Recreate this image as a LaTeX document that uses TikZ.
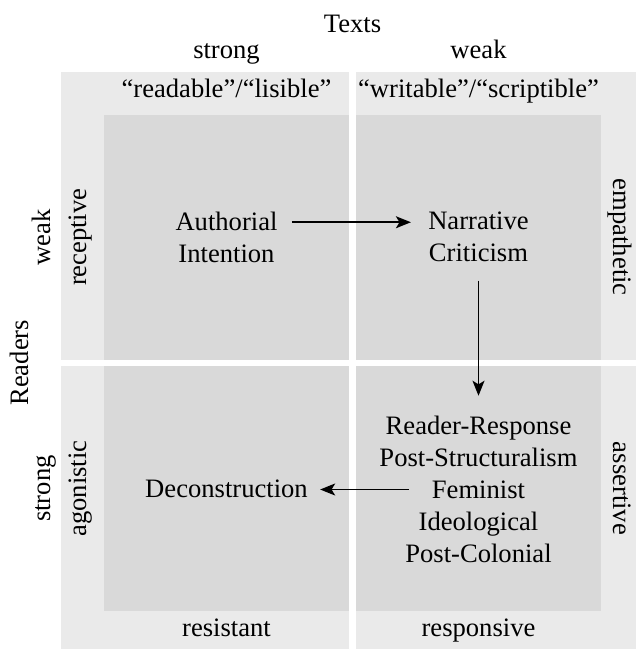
\documentclass[tikz,border=0pt]{standalone}
\usepackage{fontspec}
\setmainfont{Liberation Serif}
\usetikzlibrary{arrows.meta, positioning}
\definecolor{band}{RGB}{234,234,234}
\definecolor{field}{RGB}{217,217,217}

\begin{document}
\begin{tikzpicture}
    [
        x=0.5pt, y=-0.5pt,
        font=\fontsize{13.3pt}{16pt}\selectfont,
        lbl/.style={anchor=base, inner sep=0pt},
        multi/.style={align=center, inner sep=0pt},
        uplbl/.style={lbl, rotate=90},
        downlbl/.style={lbl, rotate=-90}
    ]
    \tikzstyle{line} = [draw, line width=0.8pt, -{Stealth[length=7.5pt, width=6pt, inset=1.8pt]}]

    \useasboundingbox (0,0) rectangle (636,649);

    % Quadrants
    \fill[band] (61,72) rectangle (349,359.5);
    \fill[field] (104,115) rectangle (349,359.5);
    \fill[band] (356,72) rectangle (636,359.5);
    \fill[field] (356,115) rectangle (601,359.5);
    \fill[band] (61,366) rectangle (349,649);
    \fill[field] (104,366) rectangle (349,611);
    \fill[band] (356,366) rectangle (636,649);
    \fill[field] (356,366) rectangle (601,611);

    % Top axis
    \node[lbl] (texts) at (352.5,32) {Texts};
    \node[lbl] (t_strong) at (226.5,58) {strong};
    \node[lbl] (t_weak) at (478.5,58) {weak};
    \node[lbl] (readable) at (226.5,97) {``readable''/``lisible''};
    \node[lbl] (writable) at (478.5,97) {``writable''/``scriptible''};

    % Left axis
    \node[uplbl] (readers) at (28.3,362.75) {Readers};
    \node[uplbl] (r_weak) at (50,237.25) {weak};
    \node[uplbl] (r_strong) at (50,488.5) {strong};
    \node[uplbl] (receptive) at (86,237.25) {receptive};
    \node[uplbl] (agonistic) at (86,488.5) {agonistic};

    % Right and bottom bands
    \node[downlbl] (empathetic) at (613.5,237.25) {empathetic};
    \node[downlbl] (assertive) at (613.5,488.5) {assertive};
    \node[lbl] (resistant) at (226.5,636) {resistant};
    \node[lbl] (responsive) at (478.5,636) {responsive};

    % Approaches
    \node[multi] (auth) at (226.5,237.25) {Authorial\\Intention};
    \node[multi] (narr) at (478.5,237.25) {Narrative\\Criticism};
    \node[multi] (resp) at (478.5,489.5) {Reader-Response\\Post-Structuralism\\Feminist\\Ideological\\Post-Colonial};
    \node[lbl] (decon) at (226.5,497) {Deconstruction};

    \path[line, shorten <=7pt, shorten >=8.5pt] ([yshift=7.5pt]auth.east) -- ([yshift=7.5pt]narr.west);
    \path[line, shorten <=9pt, shorten >=10pt] (narr.south) -- (resp.north);
    \path[line, shorten >=6pt] ([xshift=-34.75pt]resp.center) -- (decon.east |- resp.center);
\end{tikzpicture}
\end{document}
